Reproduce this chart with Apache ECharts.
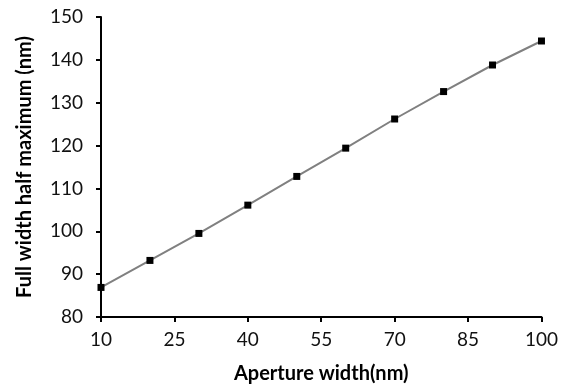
<!DOCTYPE html>
<html>
<head>
<meta charset="utf-8">
<script src="https://cdn.jsdelivr.net/npm/echarts@6/dist/echarts.min.js"></script>
<style>
  html, body { margin: 0; padding: 0; background: #fff; }
  #echart { width: 561px; height: 390px; }
</style>
</head>
<body>
<div id="echart"></div>
<script>
// aperture width (nm) and the measured FWHM (nm)
const apertureWidths = [10, 20, 30, 40, 50, 60, 70, 80, 90, 100]
const fwhmValues = [86.9, 93.2, 99.5, 106.1, 112.8, 119.4, 126.2, 132.6, 138.8, 144.4]

const xTicks = {min: 10, max: 100, interval: 15}
const yTicks = {min: 80, max: 150, interval: 10}

const font = 'Lato, "Open Sans", sans-serif'

const myChart = echarts.init(document.getElementById('echart'))

myChart.setOption({
    animation: false,
    grid: {
        left: 101,
        right: 18,
        top: 17,
        bottom: 73
    },
    xAxis: {
        type: 'value',
        min: xTicks.min,
        max: xTicks.max,
        interval: xTicks.interval,
        name: 'Aperture width(nm)',
        nameLocation: 'middle',
        nameGap: 47,
        nameTextStyle: {
            fontFamily: font,
            fontWeight: 'bold',
            fontSize: 20,
            color: '#000'
        },
        axisLine: {
            lineStyle: { color: '#000', width: 2 }
        },
        axisTick: {
            show: true,
            length: 5,
            lineStyle: { color: '#000', width: 2 }
        },
        axisLabel: {
            margin: 13,
            fontFamily: font,
            fontSize: 19,
            color: '#111'
        },
        splitLine: { show: false }
    },
    yAxis: {
        type: 'value',
        min: yTicks.min,
        max: yTicks.max,
        interval: yTicks.interval,
        name: 'Full width half maximum (nm)',
        nameLocation: 'middle',
        nameGap: 66,
        nameTextStyle: {
            fontFamily: font,
            fontWeight: 'bold',
            fontSize: 20,
            color: '#000'
        },
        axisLine: {
            show: true,
            lineStyle: { color: '#000', width: 2 }
        },
        axisTick: {
            show: true,
            length: 5,
            lineStyle: { color: '#000', width: 2 }
        },
        axisLabel: {
            margin: 18,
            fontFamily: font,
            fontSize: 19,
            color: '#111'
        },
        splitLine: { show: false }
    },
    series: [{
        type: 'line',
        data: apertureWidths.map((x, i) => [x, fwhmValues[i]]),
        symbol: 'rect',
        symbolSize: 7,
        showAllSymbol: true,
        itemStyle: { color: '#000' },
        lineStyle: { color: '#808080', width: 2 }
    }]
})
</script>
</body>
</html>
